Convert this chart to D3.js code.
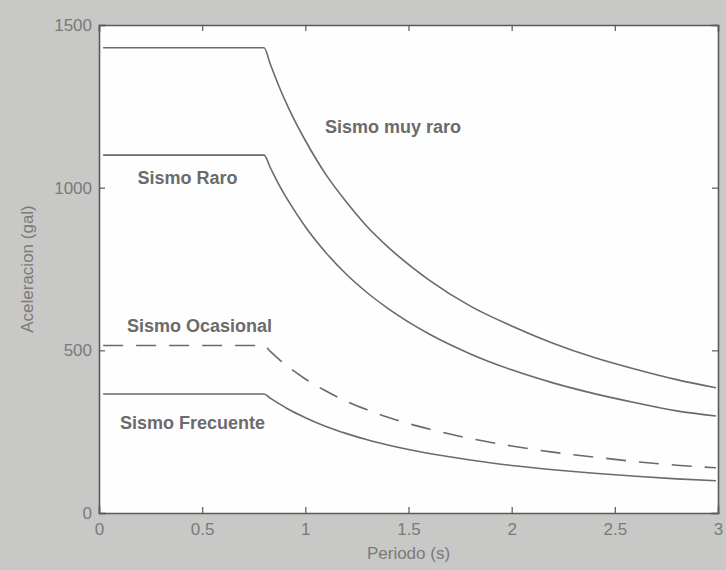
<!DOCTYPE html>
<html>
<head>
<meta charset="utf-8">
<script src="https://cdn.jsdelivr.net/npm/d3@7"></script>
<style>
  html, body { margin: 0; padding: 0; background: #c8c8c6; }
  svg { display: block; }
</style>
</head>
<body>
<svg></svg>
<script>
var width = 726;
var height = 570;
var margin = {top: 25, right: 8, bottom: 57, left: 99};

// periodo (s)
var periods = [0.02, 0.8, 0.83, 0.87, 0.92, 1.0, 1.1, 1.2, 1.3, 1.4, 1.6, 1.8, 2.0, 2.2, 2.4, 2.6, 2.8, 2.99];
// aceleracion (gal) por nivel de sismo
var muyRaro   = [1430, 1430, 1380, 1315, 1243, 1145, 1040, 955, 880, 818, 716, 636, 575, 522, 478, 442, 410, 385];
var raro      = [1100, 1100, 1062, 1012, 957, 880, 800, 733, 677, 629, 550, 489, 440, 400, 367, 339, 314, 298];
var ocasional = [515, 515, 497, 474, 448, 412, 375, 343, 317, 294, 258, 229, 206, 187, 172, 158, 147, 139];
var frecuente = [366, 366, 353, 337, 318, 293, 266, 244, 225, 209, 183, 163, 146, 133, 122, 113, 105, 99];

var seriesNames = ['Sismo muy raro', 'Sismo Raro', 'Sismo Ocasional', 'Sismo Frecuente'];
var seriesValues = [muyRaro, raro, ocasional, frecuente];
var seriesDash = [null, null, '20,13', null];

var xTicks = [0, 0.5, 1, 1.5, 2, 2.5, 3];
var yTicks = [0, 500, 1000, 1500];

var x = d3.scaleLinear()
    .domain([0, 3])
    .range([margin.left, width - margin.right]);

var y = d3.scaleLinear()
    .domain([0, 1500])
    .range([height - margin.bottom, margin.top]);

const svg = d3.select('svg')
    .attr('width', width)
    .attr('height', height)
    .attr('font-family', 'Liberation Sans, Arial, sans-serif');

// plot background
svg.append('rect')
    .attr('x', x(0))
    .attr('y', y(1500))
    .attr('width', x(3) - x(0))
    .attr('height', y(0) - y(1500))
    .attr('fill', '#fefefe');

// curves
const line = d3.line()
    .x((d, i) => x(periods[i]))
    .y(d => y(d))
    .curve(d3.curveMonotoneX);

svg.selectAll('path.curve')
    .data(seriesValues)
    .join('path')
    .attr('class', 'curve')
    .attr('fill', 'none')
    .attr('stroke', '#6a6a6a')
    .attr('stroke-width', 1.6)
    .attr('stroke-dasharray', (d, i) => seriesDash[i])
    .attr('d', line);

// series labels (placed in data coordinates)
var labelAt = [[1.425, 1187], [0.429, 1030], [0.487, 575], [0.453, 277]];
svg.selectAll('text.lbl')
    .data(seriesNames)
    .join('text')
    .attr('class', 'lbl')
    .attr('x', (d, i) => x(labelAt[i][0]))
    .attr('y', (d, i) => y(labelAt[i][1]))
    .attr('dy', '0.35em')
    .attr('text-anchor', 'middle')
    .attr('font-size', 18)
    .attr('font-weight', 'bold')
    .attr('fill', '#6b6b6b')
    .text(d => d);

// axes (matlab-style box with inward ticks)
const axisColor = '#5a5a5a';
const xAxis = d3.axisBottom(x).tickValues(xTicks).tickSize(-6).tickPadding(10).tickFormat(d3.format('~g'));
const xAxisTop = d3.axisTop(x).tickValues(xTicks).tickSize(-6).tickFormat('');
const yAxis = d3.axisLeft(y).tickValues(yTicks).tickSize(-6).tickPadding(7).tickFormat(d3.format('d'));
const yAxisRight = d3.axisRight(y).tickValues(yTicks).tickSize(-6).tickFormat('');

function style(g) {
  g.select('.domain').attr('stroke', axisColor).attr('stroke-width', 1.6);
  g.selectAll('.tick line').attr('stroke', axisColor).attr('stroke-width', 1.2);
  g.selectAll('.tick text').attr('fill', '#7a7a7a').attr('font-size', 17);
}

svg.append('g')
    .attr('transform', `translate(0,${y(0)})`)
    .call(xAxis).call(style);
svg.append('g')
    .attr('transform', `translate(0,${y(1500)})`)
    .call(xAxisTop).call(style);
svg.append('g')
    .attr('transform', `translate(${x(0)},0)`)
    .call(yAxis).call(style);
svg.append('g')
    .attr('transform', `translate(${x(3)},0)`)
    .call(yAxisRight).call(style);

svg.selectAll('.domain').attr('stroke-linecap', 'square');

// axis titles
svg.append('text')
    .attr('x', (x(0) + x(3)) / 2)
    .attr('y', 559)
    .attr('text-anchor', 'middle')
    .attr('font-size', 17)
    .attr('fill', '#7a7a7a')
    .text('Periodo (s)');

svg.append('text')
    .attr('transform', `translate(33,${(y(0) + y(1500)) / 2}) rotate(-90)`)
    .attr('text-anchor', 'middle')
    .attr('font-size', 17)
    .attr('fill', '#7a7a7a')
    .text('Aceleracion (gal)');
</script>
</body>
</html>
